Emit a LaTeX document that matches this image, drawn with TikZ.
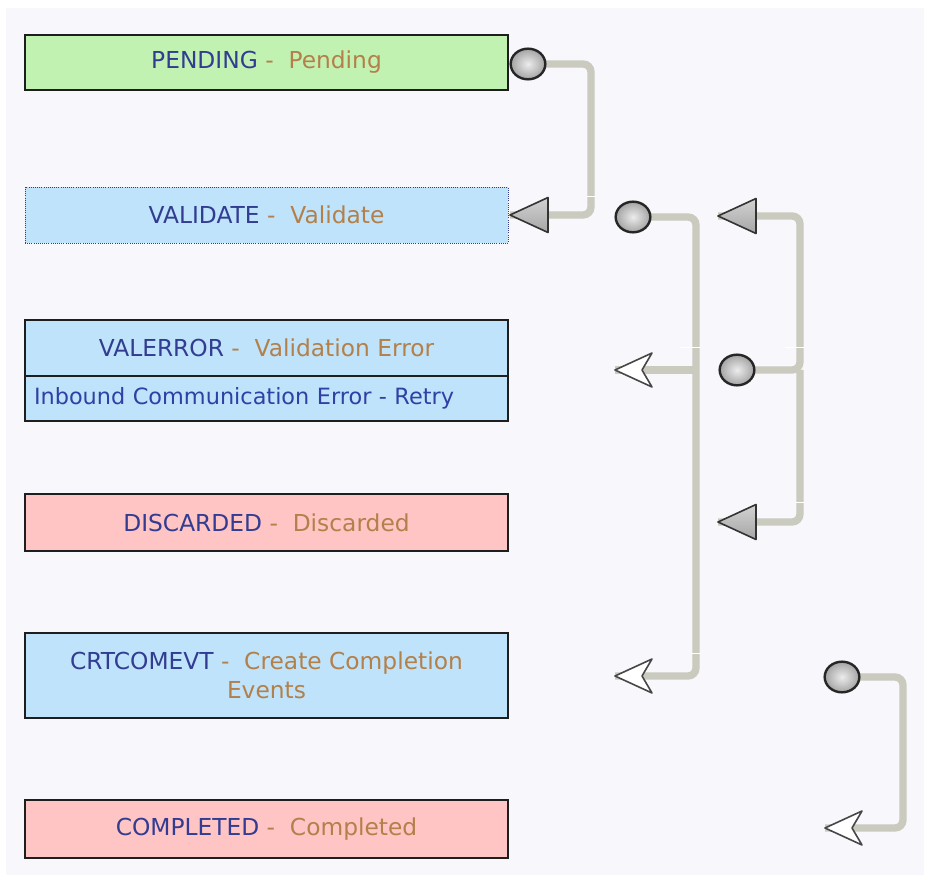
\documentclass[tikz,border=0pt]{standalone}
\usepackage{fontspec}
\setmainfont{DejaVu Sans}
\usetikzlibrary{shapes.geometric,backgrounds}
\definecolor{pagebg}{RGB}{247,247,252}
\definecolor{greenfill}{RGB}{194,242,178}
\definecolor{bluefill}{RGB}{190,227,250}
\definecolor{pinkfill}{RGB}{255,196,196}
\definecolor{codecol}{RGB}{50,60,145}
\definecolor{desccol}{RGB}{180,128,74}
\definecolor{linkcol}{RGB}{48,64,165}
\definecolor{wirecol}{RGB}{202,202,190}
\definecolor{edgecol}{RGB}{30,30,30}
\tikzset{
  statebox/.style={rectangle, draw=edgecol, line width=1.8pt, minimum width=362.25pt,
    inner sep=0pt, outer sep=0pt, font=\fontsize{17.5}{21.75}\selectfont, align=center},
  dottedbox/.style={statebox, draw=codecol, line width=0.6pt, densely dotted},
  knob/.style={ellipse, draw=black!85, line width=1.8pt, minimum width=26pt,
    minimum height=23pt, inner sep=0pt, inner color=gray!15, outer color=gray!72},
  wire/.style={draw=wirecol, line width=5.5pt, rounded corners=6pt},
  seam/.style={draw=white, line width=0.6pt},
  fulltip/.pic={\draw[black!80, line width=1.2pt, line join=round,
      top color=gray!35, bottom color=gray!70]
      (0,0) -- (38,-17.5) -- (38,17.5) -- cycle;},
  opentip/.pic={\draw[black!72, line width=1.2pt, fill=white, line join=round]
      (0,0) -- (37,-17) -- (27,0) -- (37,17) -- cycle;}
}
\newcommand{\cd}[1]{\textcolor{codecol}{#1}}
\newcommand{\ds}[1]{\textcolor{desccol}{#1}}
\begin{document}
\begin{tikzpicture}[x=0.75pt,y=-0.75pt]
  \useasboundingbox (0,0) rectangle (935,880);
  \begin{pgfonlayer}{background}
    \fill[white] (0,0) rectangle (935,880);
    \fill[pagebg] (6,8) rectangle (924,875);
  \end{pgfonlayer}

  % state boxes
  \node[statebox, fill=greenfill, minimum height=41.25pt] (pending) at (266.5,62.5)
    {\cd{PENDING} \ds{-\ \ Pending}};
  \node[dottedbox, fill=bluefill, minimum height=42pt] (validate) at (266.5,215)
    {\cd{VALIDATE} \ds{-\ \ Validate}};
  \node[statebox, fill=bluefill, minimum height=42pt] (valerror) at (266.5,348)
    {\cd{VALERROR} \ds{-\ \ Validation Error}};
  \node[statebox, fill=bluefill, minimum height=33.75pt, anchor=north, align=left,
        inner xsep=6.75pt, text width=348.75pt,
        font=\fontsize{16.8}{20}\selectfont] (retry) at (valerror.south)
    {\textcolor{linkcol}{Inbound Communication Error - Retry}};
  \node[statebox, fill=pinkfill, minimum height=42.75pt] (discarded) at (266.5,522.5)
    {\cd{DISCARDED} \ds{-\ \ Discarded}};
  \node[statebox, fill=bluefill, minimum height=63.75pt] (crtcomevt) at (266.5,675.5)
    {\cd{CRTCOMEVT} \ds{-\ \ Create Completion}\\\ds{Events}};
  \node[statebox, fill=pinkfill, minimum height=43.5pt] (completed) at (266.5,829)
    {\cd{COMPLETED} \ds{-\ \ Completed}};

  % connector end points
  \node[knob] (k1) at (528,64) {};
  \node[knob] (k2) at (633,217) {};
  \node[knob] (k3) at (737,370) {};
  \node[knob] (k4) at (842,677) {};
  \coordinate (t1) at (510,215);
  \coordinate (t2) at (615,370);
  \coordinate (t3) at (615,676);
  \coordinate (t4) at (718,216);
  \coordinate (t5) at (718,522);
  \coordinate (t6) at (825,828);

  % wires
  \begin{pgfonlayer}{background}
    \draw[wire] (k1.center) -- (591,64) -- (591,215) -- (t1);
    \draw[wire] (k2.center) -- (696,217) -- (696,676) -- (t3);
    \draw[wire] (696,370) -- (t2);
    \draw[wire] (k3.center) -- (800,370) -- (800,216) -- (t4);
    \draw[wire] (800,370) -- (800,522) -- (t5);
    \draw[wire] (k4.center) -- (903,677) -- (903,828) -- (t6);
    \draw[seam] (586,196) -- (596,196);
    \draw[seam] (680,347) -- (701,347) (785,347) -- (805,347);
    \draw[seam] (691,653) -- (701,653) (795,502) -- (805,502);
  \end{pgfonlayer}

  % arrow heads
  \pic at (t1) {fulltip};
  \pic at (t4) {fulltip};
  \pic at (t5) {fulltip};
  \pic at (t2) {opentip};
  \pic at (t3) {opentip};
  \pic at (t6) {opentip};
\end{tikzpicture}
\end{document}
